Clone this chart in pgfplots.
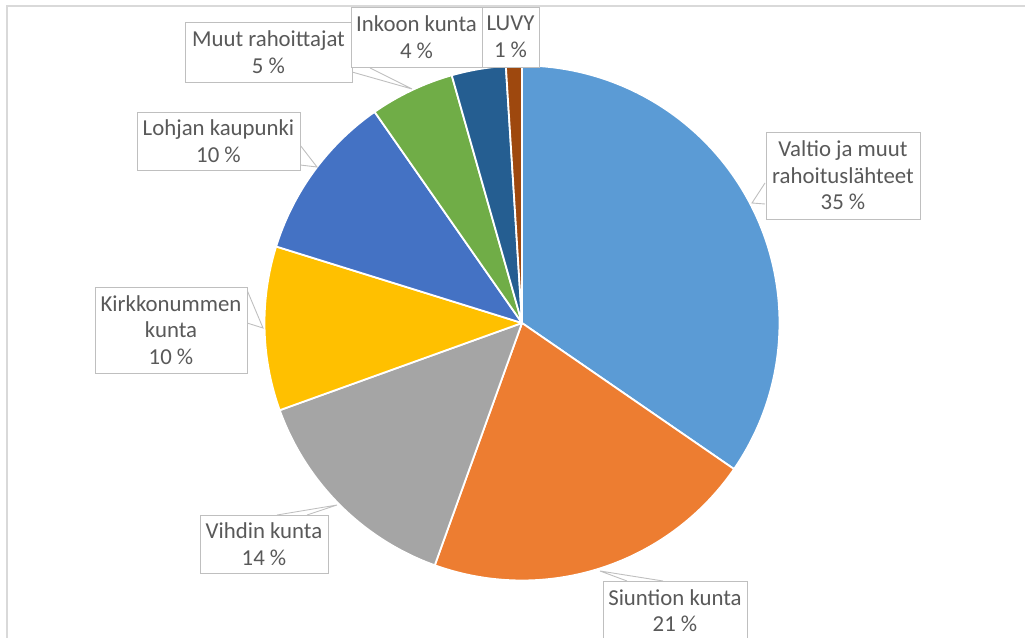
\documentclass[border=0pt]{standalone}
\usepackage{pgfplots}
\usepackage{pgfplotstable}
\pgfplotsset{compat=1.18}
\usepackage{fontspec}
\setmainfont{Carlito}
\definecolor{c1}{HTML}{5B9BD5}
\definecolor{c2}{HTML}{ED7D31}
\definecolor{c3}{HTML}{A5A5A5}
\definecolor{c4}{HTML}{FFC000}
\definecolor{c5}{HTML}{4472C4}
\definecolor{c6}{HTML}{70AD47}
\definecolor{c7}{HTML}{255E91}
\definecolor{c8}{HTML}{9E480E}
\definecolor{txt}{HTML}{595959}
\definecolor{boxc}{HTML}{BFBFBF}
\definecolor{framec}{HTML}{D9D9D9}
\pgfplotstableread{
value col
34.6 c1
20.9 c2
14.0 c3
10.3 c4
10.5 c5
5.3 c6
3.4 c7
1.0 c8
}\piedata
\begin{document}
\begin{tikzpicture}
\begin{axis}[scale only axis, width=1025pt, height=637pt,
  xmin=0, xmax=1025, ymin=0, ymax=637, hide axis, clip=false,
  at={(0,0)}, anchor=south west]
\def\cx{522}\def\cy{314}\def\rr{257.5}
\def\cum{0}
\pgfplotstablegetrowsof{\piedata}
\pgfmathtruncatemacro{\nrows}{\pgfplotsretval-1}
\pgfplotsforeachungrouped \i in {0,...,\nrows}{
  \pgfplotstablegetelem{\i}{value}\of{\piedata}\let\val\pgfplotsretval
  \pgfplotstablegetelem{\i}{col}\of{\piedata}\let\col\pgfplotsretval
  \pgfmathsetmacro{\aHi}{90-3.6*\cum}
  \pgfmathsetmacro{\newcum}{\cum+\val}
  \pgfmathsetmacro{\aLo}{90-3.6*\newcum}
  \global\let\cum\newcum
  \edef\temp{\noexpand\addplot[fill=\col, draw=white, line width=1.8pt, line join=round,
     domain=\aLo:\aHi, samples=90, variable=\noexpand\t]
     ({\cx+\rr*cos(\noexpand\t)},{\cy+\rr*sin(\noexpand\t)}) -- (axis cs:\cx,\cy) -- cycle;}
  \temp
}
% chart frame
\draw[framec, line width=1.2pt] (axis cs:7,631) rectangle (axis cs:1040,-20);
% callout pointers
\begin{scope}[boxc, line width=0.9pt]
\draw (axis cs:765,454)--(axis cs:752,434)--(axis cs:765,433);
\draw (axis cs:627,56)--(axis cs:600,66)--(axis cs:663,56);
\draw (axis cs:277,122)--(axis cs:337,132)--(axis cs:307,122);
\draw (axis cs:247,347)--(axis cs:263,309)--(axis cs:247,314);
\draw (axis cs:300,492)--(axis cs:317,470)--(axis cs:300,472);
\draw (axis cs:352,565)--(axis cs:412,548)--(axis cs:370,569);
\end{scope}
% boxes
\begin{scope}[line width=0.9pt]
\draw[boxc, fill=white] (axis cs:766,505) rectangle (axis cs:920,418);
\draw[boxc, fill=white] (axis cs:603,56) rectangle (axis cs:747,-3);
\draw[boxc, fill=white] (axis cs:200,122) rectangle (axis cs:328,64);
\draw[boxc, fill=white] (axis cs:95,350) rectangle (axis cs:247,264);
\draw[boxc, fill=white] (axis cs:137,525) rectangle (axis cs:300,467);
\draw[boxc, fill=white] (axis cs:185,615) rectangle (axis cs:352,555);
\draw[boxc, fill=white] (axis cs:351,630) rectangle (axis cs:482,570);
\draw[boxc, fill=white] (axis cs:482,630) rectangle (axis cs:539,570);
\end{scope}
\begin{scope}[every node/.style={font=\fontsize{22.8}{26.5}\selectfont, text=txt, align=center, inner sep=0pt}]
\node at (axis cs:843,461.5) {Valtio ja muut\\rahoituslähteet\\35 \%};
\node at (axis cs:675,26.5) {Siuntion kunta\\21 \%};
\node at (axis cs:264,93) {Vihdin kunta\\14 \%};
\node at (axis cs:171,307) {Kirkkonummen\\kunta\\10 \%};
\node at (axis cs:218.5,496) {Lohjan kaupunki\\10 \%};
\node at (axis cs:268.5,585) {Muut rahoittajat\\5 \%};
\node at (axis cs:416.5,600) {Inkoon kunta\\4 \%};
\node at (axis cs:510.5,600) {LUVY\\1 \%};
\end{scope}
\end{axis}
\pgfresetboundingbox
\useasboundingbox (0,0) rectangle (1025pt,637pt);
\end{tikzpicture}
\end{document}
